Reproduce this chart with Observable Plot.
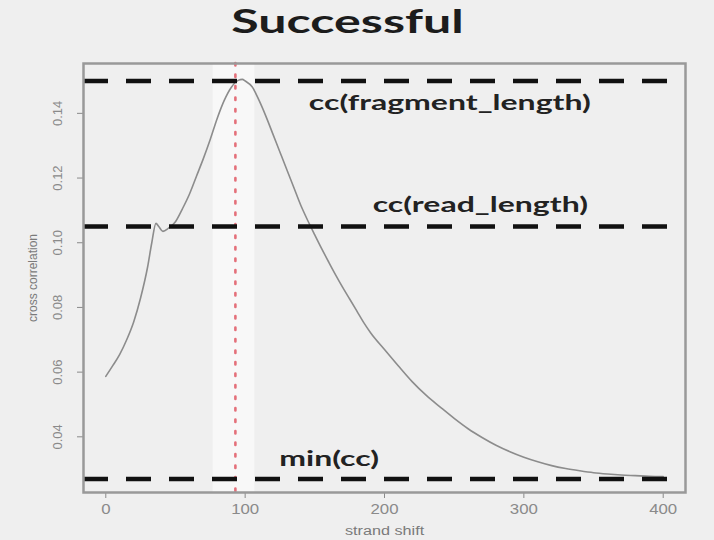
<!DOCTYPE html>
<html>
<head>
<meta charset="utf-8">
<script src="https://cdn.jsdelivr.net/npm/d3@7"></script>
<script src="https://cdn.jsdelivr.net/npm/@observablehq/plot@0.6"></script>
<style>
  html, body { margin: 0; padding: 0; background: #efefef; }
  #wrap { position: relative; width: 714px; height: 540px; overflow: hidden; }
  #title {
    height: 48px; line-height: 50px; text-align: center; padding-right: 20px;
    font: 700 33px Lato, "Open Sans", sans-serif; color: #1c1c1c;
  }
  #title span { display: inline-block; transform: scaleX(1.52); transform-origin: 50% 50%; }
  #chart svg { display: block; }
</style>
</head>
<body>
<div id="wrap">
  <div id="title"><span>Successful</span></div>
  <div id="chart"></div>
</div>
<script>
// Strand cross-correlation profile
const shift = [0, 5, 10, 15, 20, 25, 30, 33, 36, 38, 41, 45, 50, 55, 60, 65, 70, 75, 80, 85, 90, 95, 98, 100,
  105, 110, 115, 120, 125, 130, 135, 140, 145, 150, 155, 160, 165, 170, 175, 180, 185, 190, 200, 210, 220,
  230, 240, 250, 260, 270, 280, 290, 300, 310, 320, 330, 340, 350, 360, 370, 380, 390, 400];
const crossCorrelation = [0.0587, 0.0620, 0.0655, 0.0700, 0.0755, 0.0830, 0.0925, 0.1000, 0.1060, 0.1050,
  0.1035, 0.1045, 0.1065, 0.1105, 0.1150, 0.1205, 0.1260, 0.1320, 0.1385, 0.1440, 0.1480, 0.1502, 0.1505,
  0.1500, 0.1482, 0.1440, 0.1390, 0.1335, 0.1280, 0.1225, 0.1170, 0.1115, 0.1068, 0.1024, 0.0981, 0.0940,
  0.0900, 0.0862, 0.0826, 0.0790, 0.0754, 0.0722, 0.0670, 0.0619, 0.0570, 0.0528, 0.0492, 0.0457, 0.0425,
  0.0398, 0.0374, 0.0354, 0.0337, 0.0323, 0.0311, 0.0302, 0.0295, 0.0289, 0.0285, 0.0282, 0.0280, 0.0278,
  0.0277];

// Reference levels
const refNames = ["cc(fragment_length)", "cc(read_length)", "min(cc)"];
const refValues = [0.150, 0.105, 0.027];

// Estimated fragment length (strand shift at the peak)
const fragmentLength = 93;

const xTicks = [0, 100, 200, 300, 400];
const yTicks = [0.04, 0.06, 0.08, 0.10, 0.12, 0.14];
const xTickLabels = ["0", "100", "200", "300", "400"];
const yTickLabels = ["0.04", "0.06", "0.08", "0.10", "0.12", "0.14"];

const profile = shift.map((s, i) => ({shift: s, cc: crossCorrelation[i]}));
const refs = refNames.map((name, i) => ({name, value: refValues[i]}));

// R-style 4% padding around the data range
const pad = ([a, b]) => [a - 0.04 * (b - a), b + 0.04 * (b - a)];
const xDomain = pad(d3.extent(shift));
const yDomain = pad(d3.extent(crossCorrelation));

const grey = "#8a8a8a";
const labelFont = "Lato, 'Open Sans', sans-serif";
const labelStyle = {textAnchor: "end", fontSize: 20, fontWeight: 700, fontFamily: labelFont, fill: "#222",
  className: "wide-label"};

const chart = Plot.plot({
  width: 714,
  height: 492,
  marginTop: 15,
  marginBottom: 48,
  marginLeft: 83,
  marginRight: 29,
  style: {background: "transparent", fontFamily: "'Liberation Sans', Arial, sans-serif"},
  x: {domain: xDomain},
  y: {domain: yDomain},
  marks: [
    // light band around the fragment-length marker
    Plot.rectX([fragmentLength], {x1: d => d - 16, x2: d => d + 14, fill: "#ffffff", fillOpacity: 0.55}),
    // profile curve
    Plot.line(profile, {x: "shift", y: "cc", stroke: "#8c8c8c", strokeWidth: 1.6, curve: "monotone-x"}),
    // fragment length marker
    Plot.ruleX([fragmentLength], {stroke: "#e4707a", strokeWidth: 2.6, strokeDasharray: "2.5,9", strokeLinecap: "round"}),
    // reference levels
    Plot.ruleY(refs, {y: "value", stroke: "#111", strokeWidth: 4.5, strokeDasharray: "25,18"}),
    Plot.text(refs.slice(0, 1), {x: 348, y: "value", text: "name", dy: 23, ...labelStyle}),
    Plot.text(refs.slice(1, 2), {x: 346, y: "value", text: "name", dy: -21, ...labelStyle}),
    Plot.text(refs.slice(2, 3), {x: 196, y: "value", text: "name", dy: -19, ...labelStyle}),
    // axes
    Plot.axisX({ticks: xTicks, tickFormat: (d, i) => xTickLabels[i], tickSize: 6, tickPadding: 6,
      fontSize: 14, color: grey, label: null, className: "x-ticks"}),
    Plot.axisY({ticks: yTicks, tickFormat: () => "", tickSize: 6, color: grey, label: null}),
    Plot.text(yTicks, {y: d => d, text: (d, i) => yTickLabels[i], frameAnchor: "left", dx: -26,
      rotate: -90, textAnchor: "middle", fontSize: 13, fill: grey}),
    Plot.text(["strand shift"], {frameAnchor: "bottom", x: 200, dy: 42, fontSize: 12, fill: "#7a7a7a",
      className: "x-title"}),
    Plot.text(["cross correlation"], {frameAnchor: "left", y: (yDomain[0] + yDomain[1]) / 2, dx: -50,
      rotate: -90, textAnchor: "middle", fontSize: 12, fill: "#7a7a7a"}),
    Plot.frame({stroke: "#999", strokeWidth: 2.5})
  ]
});

document.getElementById("chart").appendChild(chart);

// Horizontally widen selected labels, keeping their anchors
function widen() {
  const groups = [["g.wide-label text", 1.6], ["g.x-ticks text", 1.2], ["g.x-title text", 1.35]];
  for (const [sel, k] of groups) {
    chart.querySelectorAll(sel).forEach(t => {
      t.removeAttribute("textLength");
      const len = t.getComputedTextLength();
      t.setAttribute("textLength", len * k);
      t.setAttribute("lengthAdjust", "spacingAndGlyphs");
    });
  }
}
widen();
if (document.fonts && document.fonts.ready) document.fonts.ready.then(widen);
</script>
</body>
</html>
